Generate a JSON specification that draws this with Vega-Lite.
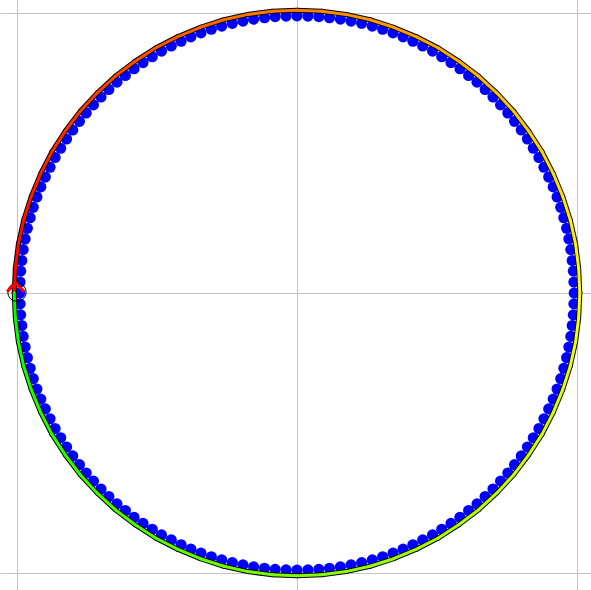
{
  "$schema": "https://vega.github.io/schema/vega-lite/v6.json",
  "width": 591,
  "height": 590,
  "autosize": "none",
  "padding": 0,
  "background": "white",
  "config": {"view": {"stroke": null}},
  "datasets": {
    "dots": [
      {"x":0.990,"y":0},{"x":0.989,"y":0.039},{"x":0.987,"y":0.078},{"x":0.983,"y":0.116},{"x":0.978,"y":0.155},{"x":0.971,"y":0.193},{"x":0.963,"y":0.231},{"x":0.953,"y":0.269},{"x":0.942,"y":0.306},{"x":0.929,"y":0.343},{"x":0.915,"y":0.379},{"x":0.899,"y":0.414},{"x":0.882,"y":0.449},{"x":0.864,"y":0.484},{"x":0.844,"y":0.517},{"x":0.823,"y":0.550},{"x":0.801,"y":0.582},{"x":0.777,"y":0.613},{"x":0.753,"y":0.643},{"x":0.727,"y":0.672},{"x":0.700,"y":0.700},{"x":0.672,"y":0.727},{"x":0.643,"y":0.753},{"x":0.613,"y":0.777},{"x":0.582,"y":0.801},{"x":0.550,"y":0.823},{"x":0.517,"y":0.844},{"x":0.484,"y":0.864},{"x":0.449,"y":0.882},{"x":0.414,"y":0.899},{"x":0.379,"y":0.915},{"x":0.343,"y":0.929},{"x":0.306,"y":0.942},{"x":0.269,"y":0.953},{"x":0.231,"y":0.963},{"x":0.193,"y":0.971},{"x":0.155,"y":0.978},{"x":0.116,"y":0.983},{"x":0.078,"y":0.987},{"x":0.039,"y":0.989},
      {"x":0,"y":0.990},{"x":-0.039,"y":0.989},{"x":-0.078,"y":0.987},{"x":-0.116,"y":0.983},{"x":-0.155,"y":0.978},{"x":-0.193,"y":0.971},{"x":-0.231,"y":0.963},{"x":-0.269,"y":0.953},{"x":-0.306,"y":0.942},{"x":-0.343,"y":0.929},{"x":-0.379,"y":0.915},{"x":-0.414,"y":0.899},{"x":-0.449,"y":0.882},{"x":-0.484,"y":0.864},{"x":-0.517,"y":0.844},{"x":-0.550,"y":0.823},{"x":-0.582,"y":0.801},{"x":-0.613,"y":0.777},{"x":-0.643,"y":0.753},{"x":-0.672,"y":0.727},{"x":-0.700,"y":0.700},{"x":-0.727,"y":0.672},{"x":-0.753,"y":0.643},{"x":-0.777,"y":0.613},{"x":-0.801,"y":0.582},{"x":-0.823,"y":0.550},{"x":-0.844,"y":0.517},{"x":-0.864,"y":0.484},{"x":-0.882,"y":0.449},{"x":-0.899,"y":0.414},{"x":-0.915,"y":0.379},{"x":-0.929,"y":0.343},{"x":-0.942,"y":0.306},{"x":-0.953,"y":0.269},{"x":-0.963,"y":0.231},{"x":-0.971,"y":0.193},{"x":-0.978,"y":0.155},{"x":-0.983,"y":0.116},{"x":-0.987,"y":0.078},{"x":-0.989,"y":0.039},
      {"x":-0.990,"y":0},{"x":-0.989,"y":-0.039},{"x":-0.987,"y":-0.078},{"x":-0.983,"y":-0.116},{"x":-0.978,"y":-0.155},{"x":-0.971,"y":-0.193},{"x":-0.963,"y":-0.231},{"x":-0.953,"y":-0.269},{"x":-0.942,"y":-0.306},{"x":-0.929,"y":-0.343},{"x":-0.915,"y":-0.379},{"x":-0.899,"y":-0.414},{"x":-0.882,"y":-0.449},{"x":-0.864,"y":-0.484},{"x":-0.844,"y":-0.517},{"x":-0.823,"y":-0.550},{"x":-0.801,"y":-0.582},{"x":-0.777,"y":-0.613},{"x":-0.753,"y":-0.643},{"x":-0.727,"y":-0.672},{"x":-0.700,"y":-0.700},{"x":-0.672,"y":-0.727},{"x":-0.643,"y":-0.753},{"x":-0.613,"y":-0.777},{"x":-0.582,"y":-0.801},{"x":-0.550,"y":-0.823},{"x":-0.517,"y":-0.844},{"x":-0.484,"y":-0.864},{"x":-0.449,"y":-0.882},{"x":-0.414,"y":-0.899},{"x":-0.379,"y":-0.915},{"x":-0.343,"y":-0.929},{"x":-0.306,"y":-0.942},{"x":-0.269,"y":-0.953},{"x":-0.231,"y":-0.963},{"x":-0.193,"y":-0.971},{"x":-0.155,"y":-0.978},{"x":-0.116,"y":-0.983},{"x":-0.078,"y":-0.987},{"x":-0.039,"y":-0.989},
      {"x":0,"y":-0.990},{"x":0.039,"y":-0.989},{"x":0.078,"y":-0.987},{"x":0.116,"y":-0.983},{"x":0.155,"y":-0.978},{"x":0.193,"y":-0.971},{"x":0.231,"y":-0.963},{"x":0.269,"y":-0.953},{"x":0.306,"y":-0.942},{"x":0.343,"y":-0.929},{"x":0.379,"y":-0.915},{"x":0.414,"y":-0.899},{"x":0.449,"y":-0.882},{"x":0.484,"y":-0.864},{"x":0.517,"y":-0.844},{"x":0.550,"y":-0.823},{"x":0.582,"y":-0.801},{"x":0.613,"y":-0.777},{"x":0.643,"y":-0.753},{"x":0.672,"y":-0.727},{"x":0.700,"y":-0.700},{"x":0.727,"y":-0.672},{"x":0.753,"y":-0.643},{"x":0.777,"y":-0.613},{"x":0.801,"y":-0.582},{"x":0.823,"y":-0.550},{"x":0.844,"y":-0.517},{"x":0.864,"y":-0.484},{"x":0.882,"y":-0.449},{"x":0.899,"y":-0.414},{"x":0.915,"y":-0.379},{"x":0.929,"y":-0.343},{"x":0.942,"y":-0.306},{"x":0.953,"y":-0.269},{"x":0.963,"y":-0.231},{"x":0.971,"y":-0.193},{"x":0.978,"y":-0.155},{"x":0.983,"y":-0.116},{"x":0.987,"y":-0.078},{"x":0.989,"y":-0.039}
    ],
    "path": [
      {"t":0,"x":-1.010,"y":0,"x2":-1.006,"y2":0.088},
      {"t":1,"x":-1.006,"y":0.088,"x2":-0.995,"y2":0.175},
      {"t":2,"x":-0.995,"y":0.175,"x2":-0.976,"y2":0.261},
      {"t":3,"x":-0.976,"y":0.261,"x2":-0.949,"y2":0.345},
      {"t":4,"x":-0.949,"y":0.345,"x2":-0.915,"y2":0.427},
      {"t":5,"x":-0.915,"y":0.427,"x2":-0.875,"y2":0.505},
      {"t":6,"x":-0.875,"y":0.505,"x2":-0.827,"y2":0.579},
      {"t":7,"x":-0.827,"y":0.579,"x2":-0.774,"y2":0.649},
      {"t":8,"x":-0.774,"y":0.649,"x2":-0.714,"y2":0.714},
      {"t":9,"x":-0.714,"y":0.714,"x2":-0.649,"y2":0.774},
      {"t":10,"x":-0.649,"y":0.774,"x2":-0.579,"y2":0.827},
      {"t":11,"x":-0.579,"y":0.827,"x2":-0.505,"y2":0.875},
      {"t":12,"x":-0.505,"y":0.875,"x2":-0.427,"y2":0.915},
      {"t":13,"x":-0.427,"y":0.915,"x2":-0.345,"y2":0.949},
      {"t":14,"x":-0.345,"y":0.949,"x2":-0.261,"y2":0.976},
      {"t":15,"x":-0.261,"y":0.976,"x2":-0.175,"y2":0.995},
      {"t":16,"x":-0.175,"y":0.995,"x2":-0.088,"y2":1.006},
      {"t":17,"x":-0.088,"y":1.006,"x2":0,"y2":1.010},
      {"t":18,"x":0,"y":1.010,"x2":0.088,"y2":1.006},
      {"t":19,"x":0.088,"y":1.006,"x2":0.175,"y2":0.995},
      {"t":20,"x":0.175,"y":0.995,"x2":0.261,"y2":0.976},
      {"t":21,"x":0.261,"y":0.976,"x2":0.345,"y2":0.949},
      {"t":22,"x":0.345,"y":0.949,"x2":0.427,"y2":0.915},
      {"t":23,"x":0.427,"y":0.915,"x2":0.505,"y2":0.875},
      {"t":24,"x":0.505,"y":0.875,"x2":0.579,"y2":0.827},
      {"t":25,"x":0.579,"y":0.827,"x2":0.649,"y2":0.774},
      {"t":26,"x":0.649,"y":0.774,"x2":0.714,"y2":0.714},
      {"t":27,"x":0.714,"y":0.714,"x2":0.774,"y2":0.649},
      {"t":28,"x":0.774,"y":0.649,"x2":0.827,"y2":0.579},
      {"t":29,"x":0.827,"y":0.579,"x2":0.875,"y2":0.505},
      {"t":30,"x":0.875,"y":0.505,"x2":0.915,"y2":0.427},
      {"t":31,"x":0.915,"y":0.427,"x2":0.949,"y2":0.345},
      {"t":32,"x":0.949,"y":0.345,"x2":0.976,"y2":0.261},
      {"t":33,"x":0.976,"y":0.261,"x2":0.995,"y2":0.175},
      {"t":34,"x":0.995,"y":0.175,"x2":1.006,"y2":0.088},
      {"t":35,"x":1.006,"y":0.088,"x2":1.010,"y2":0},
      {"t":36,"x":1.010,"y":0,"x2":1.006,"y2":-0.088},
      {"t":37,"x":1.006,"y":-0.088,"x2":0.995,"y2":-0.175},
      {"t":38,"x":0.995,"y":-0.175,"x2":0.976,"y2":-0.261},
      {"t":39,"x":0.976,"y":-0.261,"x2":0.949,"y2":-0.345},
      {"t":40,"x":0.949,"y":-0.345,"x2":0.915,"y2":-0.427},
      {"t":41,"x":0.915,"y":-0.427,"x2":0.875,"y2":-0.505},
      {"t":42,"x":0.875,"y":-0.505,"x2":0.827,"y2":-0.579},
      {"t":43,"x":0.827,"y":-0.579,"x2":0.774,"y2":-0.649},
      {"t":44,"x":0.774,"y":-0.649,"x2":0.714,"y2":-0.714},
      {"t":45,"x":0.714,"y":-0.714,"x2":0.649,"y2":-0.774},
      {"t":46,"x":0.649,"y":-0.774,"x2":0.579,"y2":-0.827},
      {"t":47,"x":0.579,"y":-0.827,"x2":0.505,"y2":-0.875},
      {"t":48,"x":0.505,"y":-0.875,"x2":0.427,"y2":-0.915},
      {"t":49,"x":0.427,"y":-0.915,"x2":0.345,"y2":-0.949},
      {"t":50,"x":0.345,"y":-0.949,"x2":0.261,"y2":-0.976},
      {"t":51,"x":0.261,"y":-0.976,"x2":0.175,"y2":-0.995},
      {"t":52,"x":0.175,"y":-0.995,"x2":0.088,"y2":-1.006},
      {"t":53,"x":0.088,"y":-1.006,"x2":0,"y2":-1.010},
      {"t":54,"x":0,"y":-1.010,"x2":-0.088,"y2":-1.006},
      {"t":55,"x":-0.088,"y":-1.006,"x2":-0.175,"y2":-0.995},
      {"t":56,"x":-0.175,"y":-0.995,"x2":-0.261,"y2":-0.976},
      {"t":57,"x":-0.261,"y":-0.976,"x2":-0.345,"y2":-0.949},
      {"t":58,"x":-0.345,"y":-0.949,"x2":-0.427,"y2":-0.915},
      {"t":59,"x":-0.427,"y":-0.915,"x2":-0.505,"y2":-0.875},
      {"t":60,"x":-0.505,"y":-0.875,"x2":-0.579,"y2":-0.827},
      {"t":61,"x":-0.579,"y":-0.827,"x2":-0.649,"y2":-0.774},
      {"t":62,"x":-0.649,"y":-0.774,"x2":-0.714,"y2":-0.714},
      {"t":63,"x":-0.714,"y":-0.714,"x2":-0.774,"y2":-0.649},
      {"t":64,"x":-0.774,"y":-0.649,"x2":-0.827,"y2":-0.579},
      {"t":65,"x":-0.827,"y":-0.579,"x2":-0.875,"y2":-0.505},
      {"t":66,"x":-0.875,"y":-0.505,"x2":-0.915,"y2":-0.427},
      {"t":67,"x":-0.915,"y":-0.427,"x2":-0.949,"y2":-0.345},
      {"t":68,"x":-0.949,"y":-0.345,"x2":-0.976,"y2":-0.261},
      {"t":69,"x":-0.976,"y":-0.261,"x2":-0.995,"y2":-0.175},
      {"t":70,"x":-0.995,"y":-0.175,"x2":-1.006,"y2":-0.088},
      {"t":71,"x":-1.006,"y":-0.088,"x2":-1.010,"y2":0}
    ],
    "start": [{"x":-1.0,"y":0.003}],
    "arrow": [{"x":-1.005,"y":0.02}]
  },
  "encoding": {
    "x": {"field": "x", "type": "quantitative",
      "scale": {"domain": [-1.0607, 1.05], "nice": false, "zero": false},
      "axis": {"title": null, "labels": false, "ticks": false, "domain": false, "values": [-1, 0, 1], "grid": true, "gridColor": "#c4c4c4", "gridWidth": 1, "gridOpacity": 1}},
    "y": {"field": "y", "type": "quantitative",
      "scale": {"domain": [-1.0607, 1.0464], "nice": false, "zero": false},
      "axis": {"title": null, "labels": false, "ticks": false, "domain": false, "values": [-1, 0, 1], "grid": true, "gridColor": "#c4c4c4", "gridWidth": 1, "gridOpacity": 1}}
  },
  "layer": [
    {
      "data": {"name": "dots"},
      "mark": {"type": "point", "shape": "circle", "filled": true, "size": 125, "color": "#0000ff", "opacity": 1}
    },
    {
      "data": {"name": "path"},
      "mark": {"type": "rule", "color": "#000000", "strokeWidth": 5, "strokeCap": "round"},
      "encoding": {"x2": {"field": "x2"}, "y2": {"field": "y2"}}
    },
    {
      "data": {"name": "path"},
      "mark": {"type": "rule", "strokeWidth": 3, "strokeCap": "round"},
      "encoding": {
        "x2": {"field": "x2"}, "y2": {"field": "y2"},
        "color": {"field": "t", "type": "quantitative", "legend": null,
          "scale": {"domain": [0, 35.5, 71], "range": ["#ff0000", "#ffff00", "#00ff00"], "interpolate": "rgb"}}
      }
    },
    {
      "data": {"name": "start"},
      "mark": {"type": "point", "shape": "circle", "filled": false, "size": 340, "color": "#000000", "strokeWidth": 1, "opacity": 1}
    },
    {
      "data": {"name": "arrow"},
      "mark": {"type": "point", "shape": "M-1,0.5L0,-0.5L1,0.5", "filled": false, "size": 290, "color": "#ff0000", "strokeWidth": 3, "opacity": 1}
    }
  ]
}
